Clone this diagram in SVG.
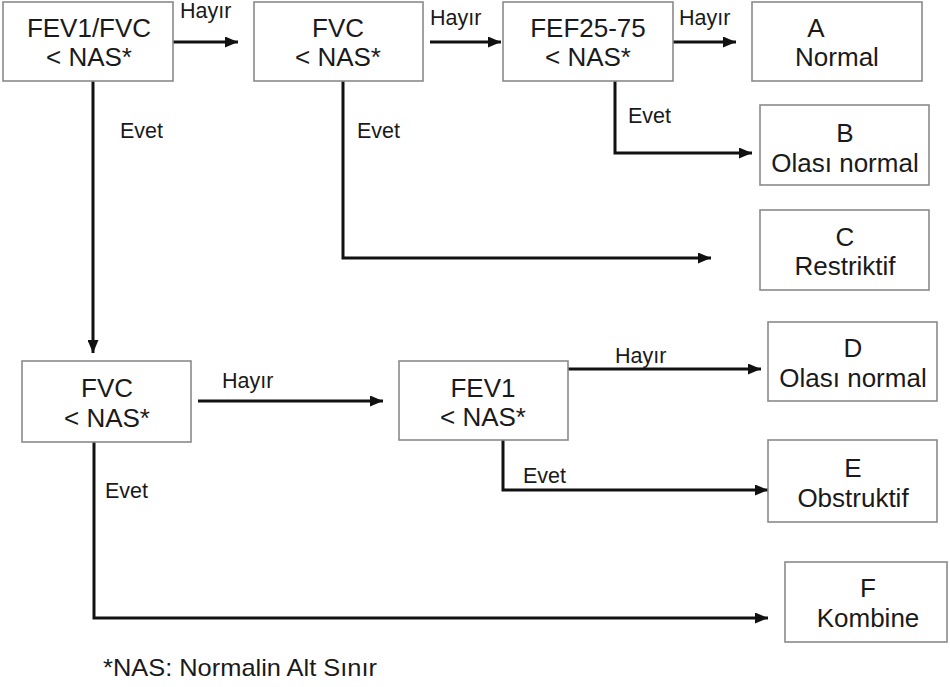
<svg xmlns="http://www.w3.org/2000/svg" width="950" height="687" viewBox="0 0 950 687">
<style>
.box{fill:#fff;stroke:#8a8a8a;stroke-width:1.6}
.t{font-family:"Liberation Sans",Arial,sans-serif;font-size:26px;fill:#1a1a1a;text-anchor:middle}
.l{font-family:"Liberation Sans",Arial,sans-serif;font-size:21.5px;fill:#1a1a1a}
.c{fill:none;stroke:#111;stroke-width:3;marker-end:url(#ah)}
</style>
<defs>
<marker id="ah" markerUnits="userSpaceOnUse" markerWidth="13" markerHeight="11" viewBox="0 0 13 11" refX="13" refY="5.5" orient="auto">
<path d="M0,0 L13,5.5 L0,11 z" fill="#111"/>
</marker>
</defs>
<rect width="950" height="687" fill="#fff"/>
<g id="connectors">
<path class="c" d="M173,42 H238"/>
<path class="c" d="M430,42 H501"/>
<path class="c" d="M673,42 H736"/>
<path class="c" d="M615,81 V153 H752"/>
<path class="c" d="M343,81 V258 H711"/>
<path class="c" d="M93,81 V353"/>
<path class="c" d="M198,401 H383"/>
<path class="c" d="M568,369 H761"/>
<path class="c" d="M503,440 V490 H768"/>
<path class="c" d="M94,442 V618 H768"/>
<text class="l" x="180" y="18">Hayır</text>
<text class="l" x="430" y="25">Hayır</text>
<text class="l" x="679" y="25">Hayır</text>
<text class="l" x="628" y="123">Evet</text>
<text class="l" x="357" y="138">Evet</text>
<text class="l" x="120" y="138">Evet</text>
<text class="l" x="222" y="388">Hayır</text>
<text class="l" x="615" y="363">Hayır</text>
<text class="l" x="523" y="483">Evet</text>
<text class="l" x="105" y="498">Evet</text>
</g>
<g id="n1"><rect class="box" x="3" y="2" width="170" height="79"/><text class="t" x="89" y="37">FEV1/FVC</text><text class="t" x="89" y="66">&lt; NAS*</text></g>
<g id="n2"><rect class="box" x="254" y="2" width="169" height="79"/><text class="t" x="338" y="37">FVC</text><text class="t" x="338" y="66">&lt; NAS*</text></g>
<g id="n3"><rect class="box" x="503" y="2" width="170" height="79"/><text class="t" x="588" y="37">FEF25-75</text><text class="t" x="588" y="66">&lt; NAS*</text></g>
<g id="nA"><rect class="box" x="752" y="2" width="170" height="79"/><text class="t" x="816" y="37">A</text><text class="t" x="837" y="66">Normal</text></g>
<g id="nB"><rect class="box" x="760" y="105" width="169" height="80"/><text class="t" x="845" y="142">B</text><text class="t" x="845" y="172">Olası normal</text></g>
<g id="nC"><rect class="box" x="760" y="210" width="169" height="80"/><text class="t" x="845" y="246">C</text><text class="t" x="845" y="275">Restriktif</text></g>
<g id="n4"><rect class="box" x="22" y="361" width="169" height="81"/><text class="t" x="107" y="397">FVC</text><text class="t" x="107" y="427">&lt; NAS*</text></g>
<g id="n5"><rect class="box" x="399" y="361" width="169" height="79"/><text class="t" x="483" y="397">FEV1</text><text class="t" x="483" y="426">&lt; NAS*</text></g>
<g id="nD"><rect class="box" x="768" y="322" width="169" height="79"/><text class="t" x="853" y="357">D</text><text class="t" x="853" y="387">Olası normal</text></g>
<g id="nE"><rect class="box" x="768" y="440" width="169" height="82"/><text class="t" x="853" y="477">E</text><text class="t" x="853" y="507">Obstruktif</text></g>
<g id="nF"><rect class="box" x="785" y="562" width="162" height="80"/><text class="t" x="868" y="597">F</text><text class="t" x="868" y="627">Kombine</text></g>
<text class="l" x="103" y="676" style="font-size:24px" textLength="274" lengthAdjust="spacingAndGlyphs">*NAS: Normalin Alt Sınır</text>
</svg>
